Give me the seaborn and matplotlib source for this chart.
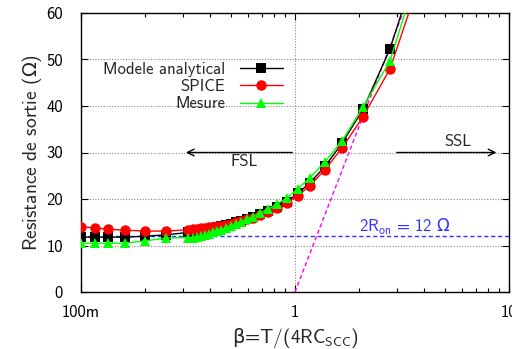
import numpy as np
import pandas as pd
import matplotlib
matplotlib.use("Agg")
import matplotlib.pyplot as plt
import seaborn as sns

# ─── Data ──────────────────────────────────────────────────
beta = [0.1, 0.116, 0.133, 0.16, 0.2, 0.25, 0.316, 0.333, 0.348, 0.364,
        0.38, 0.397, 0.414, 0.431, 0.451, 0.476, 0.502, 0.529, 0.559, 0.596,
        0.636, 0.686, 0.749, 0.823, 0.915, 1.03, 1.17, 1.38, 1.66, 2.08,
        2.78, 3.7]

r_model = [11.8, 11.8, 11.8, 11.8, 12.0, 12.3, 12.8, 12.9, 13.0, 13.2,
           13.3, 13.5, 13.7, 13.9, 14.1, 14.4, 14.7, 15.0, 15.3, 15.7,
           16.1, 16.7, 17.4, 18.3, 19.4, 21.2, 23.4, 27.0, 32.0, 39.3,
           52.3, 70.0]

r_spice = [14.0, 13.8, 13.5, 13.3, 13.1, 13.1, 13.4, 13.5, 13.6, 13.7,
           13.8, 13.9, 14.0, 14.1, 14.3, 14.5, 14.7, 15.0, 15.3, 15.6,
           16.0, 16.5, 17.2, 18.1, 19.1, 20.7, 22.8, 26.3, 31.0, 37.7,
           48.0, 65.0]

r_mesure = [10.5, 10.5, 10.5, 10.5, 11.0, 11.6, 11.7, 11.7, 11.8, 12.0,
            12.2, 12.5, 12.8, 13.1, 13.4, 13.8, 14.2, 14.6, 15.1, 15.6,
            16.2, 17.0, 17.8, 18.9, 20.2, 22.2, 24.5, 28.0, 32.5, 39.8,
            49.7, 68.0]

# SSL asymptote (straight on log-x)
asym_beta = [1.0, 4.0]
asym_r = [0.0, 71.6]

r_on2 = 12.0   # 2 R_on

# ─── Style ─────────────────────────────────────────────────
sns.set_theme(style="ticks")
plt.rcParams['font.family'] = ['cmss10', 'DejaVu Sans']
plt.rcParams['mathtext.fontset'] = 'custom'
plt.rcParams['mathtext.rm'] = 'cmss10'
plt.rcParams['mathtext.sf'] = 'DejaVu Sans'   # greek letters (cmss10 has none)
plt.rcParams['axes.unicode_minus'] = False

fig = plt.figure(figsize=(5.12, 3.49), dpi=100)
ax = fig.add_axes([81/512, 1 - 292/349, 428/512, 279/349])

ax.set_xscale('log')
ax.set_xlim(0.1, 10)
ax.set_ylim(0, 60)

# grid: dotted, only inside
for yv in [10, 20, 30, 40, 50]:
    ax.axhline(yv, color='#888888', linestyle=(0, (1, 1.5)), linewidth=0.8, zorder=0)
ax.axvline(1, color='#888888', linestyle=(0, (1, 1.5)), linewidth=0.8, zorder=0)

# reference lines
ax.axhline(r_on2, color='#3030ff', linestyle=(0, (3, 2)), linewidth=1.0, zorder=1)
sns.lineplot(x=asym_beta, y=asym_r, ax=ax, color='#ff00ff',
             linestyle=(0, (3, 2)), linewidth=1.0, zorder=1)

series = [
    ("Modele analytical", r_model, 'black', 's'),
    ("SPICE", r_spice, '#ff0000', 'o'),
    ("Mesure", r_mesure, '#00ff00', '^'),
]
for name, vals, col, mk in series:
    sns.lineplot(x=beta, y=vals, ax=ax, color=col, marker=mk, markersize=7.5,
                 markeredgewidth=0, linewidth=1.0, label=name, sort=False,
                 zorder=3)

# annotations
ax.annotate('', xy=(0.3, 30), xytext=(1.0, 30),
            arrowprops=dict(arrowstyle='->', color='black', lw=1.0))
ax.annotate('', xy=(9.0, 30), xytext=(2.9, 30),
            arrowprops=dict(arrowstyle='->', color='black', lw=1.0))
ax.text(0.58, 28.0, 'FSL', ha='center', va='center', fontsize=12)
ax.text(5.8, 32.3, 'SSL', ha='center', va='center', fontsize=12)
ax.text(2.0, 13.2, r'2R$_{\mathrm{on}}$ = 12 $\mathsf{\Omega}$', color='#3030ff',
        ha='left', va='baseline', fontsize=12)

# ticks
ax.set_xticks([0.1, 1, 10])
ax.set_xticklabels(['100m', '1', '10'])
ax.set_yticks(range(0, 61, 10))
ax.tick_params(axis='both', which='both', direction='in', top=True, right=True,
               labelsize=12, colors='black')
ax.tick_params(axis='both', which='major', length=5, width=0.8)
ax.tick_params(axis='x', which='major', pad=9.5)
ax.tick_params(axis='y', which='major', pad=13)
ax.tick_params(axis='x', which='minor', length=3, width=0.8)
for sp in ax.spines.values():
    sp.set_linewidth(1.0)
    sp.set_color('black')

ax.set_xlabel(r'$\mathsf{\beta}$=T/(4RC$_{\mathrm{SCC}}$)', fontsize=14, labelpad=4)
ax.set_ylabel(r'Resistance de sortie ($\mathsf{\Omega}$)', fontsize=14, labelpad=2)

ax.legend(loc='upper right', bbox_to_anchor=(0.472, 0.825), frameon=False,
          markerfirst=False, fontsize=12, handlelength=2.6, handletextpad=0.85,
          labelspacing=0.14, borderaxespad=0, borderpad=0)

fig.savefig('out.png', dpi=100)
